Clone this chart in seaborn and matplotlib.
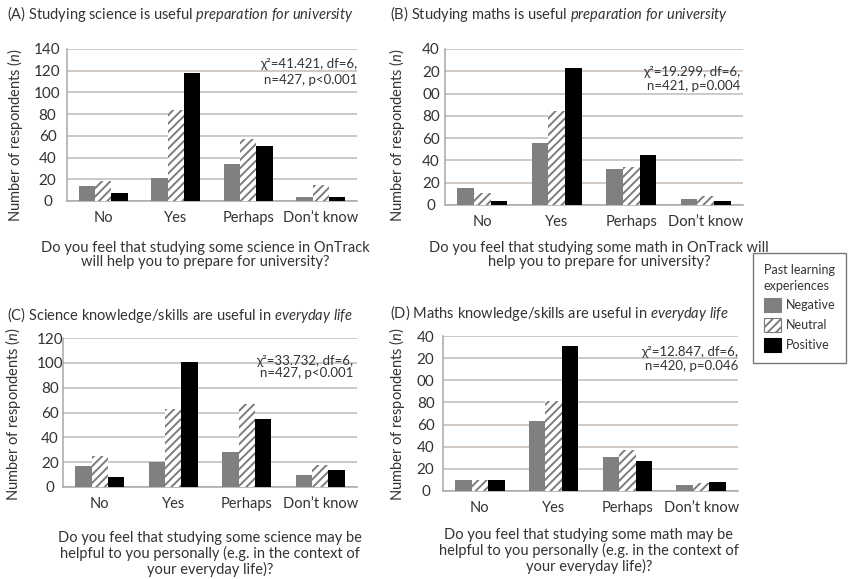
import numpy as np
import pandas as pd
import matplotlib
matplotlib.use("Agg")
import matplotlib.pyplot as plt
import seaborn as sns
from matplotlib.patches import Patch

# ---------------- data ----------------
categories = ["No", "Yes", "Perhaps", "Don\u2019t know"]
groups = ["Negative", "Neutral", "Positive"]

a_negative = [14, 21, 34, 4]
a_neutral = [18, 84, 57, 15]
a_positive = [7, 118, 51, 4]

b_negative = [15, 56, 32, 5]
b_neutral = [11, 84, 34, 8]
b_positive = [4, 123, 45, 4]

c_negative = [17, 20, 28, 10]
c_neutral = [25, 63, 67, 18]
c_positive = [8, 101, 55, 14]

d_negative = [10, 63, 31, 5]
d_neutral = [10, 81, 37, 7]
d_positive = [10, 131, 27, 8]

a_yticks = [0, 20, 40, 60, 80, 100, 120, 140]
a_yticklabels = ["0", "20", "40", "60", "80", "100", "120", "140"]
b_yticks = [0, 20, 40, 60, 80, 100, 120, 140]
b_yticklabels = ["0", "20", "40", "60", "80", "00", "20", "40"]
c_yticks = [0, 20, 40, 60, 80, 100, 120]
c_yticklabels = ["0", "20", "40", "60", "80", "100", "120"]
d_yticks = [0, 20, 40, 60, 80, 100, 120, 140]
d_yticklabels = ["0", "20", "40", "60", "80", "00", "20", "40"]

titles = [
    r"(A) Studying science is useful $\it{preparation\ for\ university}$",
    r"(B) Studying maths is useful $\it{preparation\ for\ university}$",
    r"(C) Science knowledge/skills are useful in $\it{everyday\ life}$",
    r"(D) Maths knowledge/skills are useful in $\it{everyday\ life}$",
]
stats = [
    "\u03c7\u00b2=41.421, df=6,\nn=427, p<0.001",
    "\u03c7\u00b2=19.299, df=6,\nn=421, p=0.004",
    "\u03c7\u00b2=33.732, df=6,\nn=427, p<0.001",
    "\u03c7\u00b2=12.847, df=6,\nn=420, p=0.046",
]
xlabels = [
    "Do you feel that studying some science in OnTrack\nwill help you to prepare for university?",
    "Do you feel that studying some math in OnTrack will\nhelp you to prepare for university?",
    "Do you feel that studying some science may be\nhelpful to you personally (e.g. in the context of\nyour everyday life)?",
    "Do you feel that studying some math may be\nhelpful to you personally (e.g. in the context of\nyour everyday life)?",
]
ylabel = r"Number of respondents ($\it{n}$)"
legend_title = "Past learning\nexperiences"

# ---------------- style ----------------
sns.set_theme(style="white")
FONT = ["Lato", "DejaVu Sans"]
plt.rcParams["font.family"] = FONT
plt.rcParams["mathtext.fontset"] = "custom"
plt.rcParams["mathtext.rm"] = "Lato"
plt.rcParams["mathtext.it"] = "Lato:italic"
plt.rcParams["hatch.linewidth"] = 1.4

TXT = "#333333"
GRID = "#c4b9b1"
SPINE = "#a8a8a8"
NEG = "#808080"
HATCH = "#7c7c7c"
POS = "#000000"

W, H = 852, 579
fig = plt.figure(figsize=(W / 100, H / 100), dpi=100)
fig.patch.set_facecolor("white")


def fx(x):
    return x / W


def fy(y):
    return 1 - y / H


def rect(x0, y0, x1, y1):
    return [fx(x0), fy(y1), (x1 - x0) / W, (y1 - y0) / H]


panels = [
    dict(box=(67, 49, 357, 201), vals=(a_negative, a_neutral, a_positive),
         yt=a_yticks, ytl=a_yticklabels, ymax=140, ypad=14,
         title_xy=(7, 14), ylab_xy=(15, 135), stat_xy=(357, 72), stat_ls=1.35,
         xlab_xy=(205, 255)),
    dict(box=(445, 49, 743, 205), vals=(b_negative, b_neutral, b_positive),
         yt=b_yticks, ytl=b_yticklabels, ymax=140, ypad=10,
         title_xy=(390, 14), ylab_xy=(397, 135), stat_xy=(740, 79), stat_ls=1.3,
         xlab_xy=(599, 255)),
    dict(box=(63, 338, 357, 487), vals=(c_negative, c_neutral, c_positive),
         yt=c_yticks, ytl=c_yticklabels, ymax=120, ypad=9.5,
         title_xy=(7, 315), ylab_xy=(13, 414), stat_xy=(353, 367), stat_ls=1.05,
         xlab_xy=(210, 554)),
    dict(box=(443, 336, 738, 491), vals=(d_negative, d_neutral, d_positive),
         yt=d_yticks, ytl=d_yticklabels, ymax=140, ypad=12.5,
         title_xy=(390, 313), ylab_xy=(397, 414), stat_xy=(738, 359), stat_ls=1.15,
         xlab_xy=(589, 551)),
]

for i, p in enumerate(panels):
    ax = fig.add_axes(rect(*p["box"]))
    neg, neu, pos = p["vals"]
    df = pd.DataFrame({
        "answer": categories * 3,
        "experience": np.repeat(groups, len(categories)),
        "count": list(neg) + list(neu) + list(pos),
    })
    sns.barplot(data=df, x="answer", y="count", hue="experience",
                order=categories, hue_order=groups,
                palette=[NEG, "white", POS], saturation=1, width=0.67,
                errorbar=None, legend=False, ax=ax, zorder=3)
    for bar in ax.containers[1]:
        bar.set_hatch("////")
        bar.set_edgecolor(HATCH)
        bar.set_linewidth(0)
    for cont in (ax.containers[0], ax.containers[2]):
        for bar in cont:
            bar.set_linewidth(0)

    ax.set_xlim(-0.5, len(categories) - 0.5)
    ax.set_ylim(0, p["ymax"])
    ax.set_yticks(p["yt"])
    ax.set_yticklabels(p["ytl"])
    ax.yaxis.grid(True, color=GRID, linewidth=1.1, zorder=0)
    ax.set_axisbelow(True)
    for s in ("top", "right"):
        ax.spines[s].set_visible(False)
    for s in ("left", "bottom"):
        ax.spines[s].set_color(SPINE)
        ax.spines[s].set_linewidth(1.1)
    ax.set_xlabel("")
    ax.set_ylabel("")
    ax.tick_params(axis="both", length=0, colors=TXT)
    ax.tick_params(axis="x", pad=7, labelsize=10.5)
    ax.tick_params(axis="y", pad=p["ypad"], labelsize=11)
    for lab in ax.get_yticklabels():
        lab.set_horizontalalignment("center")

    fig.text(fx(p["title_xy"][0]), fy(p["title_xy"][1]), titles[i],
             ha="left", va="center", fontsize=10.5, color=TXT)
    fig.text(fx(p["ylab_xy"][0]), fy(p["ylab_xy"][1]), ylabel, rotation=90,
             ha="center", va="center", fontsize=10.5, color=TXT)
    fig.text(fx(p["stat_xy"][0]), fy(p["stat_xy"][1]), stats[i],
             ha="right", va="center", fontsize=9.5, color=TXT,
             linespacing=p["stat_ls"], family=FONT)
    fig.text(fx(p["xlab_xy"][0]), fy(p["xlab_xy"][1]), xlabels[i],
             ha="center", va="center", fontsize=10.5, color=TXT,
             linespacing=1.08, multialignment="center")

handles = [
    Patch(facecolor=NEG, edgecolor=NEG, linewidth=0.8),
    Patch(facecolor="white", edgecolor=HATCH, hatch="////", linewidth=0.8),
    Patch(facecolor=POS, edgecolor=POS, linewidth=0.8),
]
leg = fig.legend(handles, groups, title=legend_title, loc="upper left",
                 bbox_to_anchor=(fx(753), fy(253)), bbox_transform=fig.transFigure,
                 frameon=True, fancybox=False, edgecolor="#555555",
                 fontsize=9, title_fontsize=9, handlelength=1.4, handleheight=1.4,
                 handletextpad=0.35, labelspacing=0.45, borderpad=0.85,
                 borderaxespad=0)
leg.get_frame().set_linewidth(1.0)
leg.get_title().set_color(TXT)
leg.get_title().set_linespacing(1.45)
for t in leg.get_texts():
    t.set_color(TXT)

fig.savefig("out.png", dpi=100, facecolor="white")
